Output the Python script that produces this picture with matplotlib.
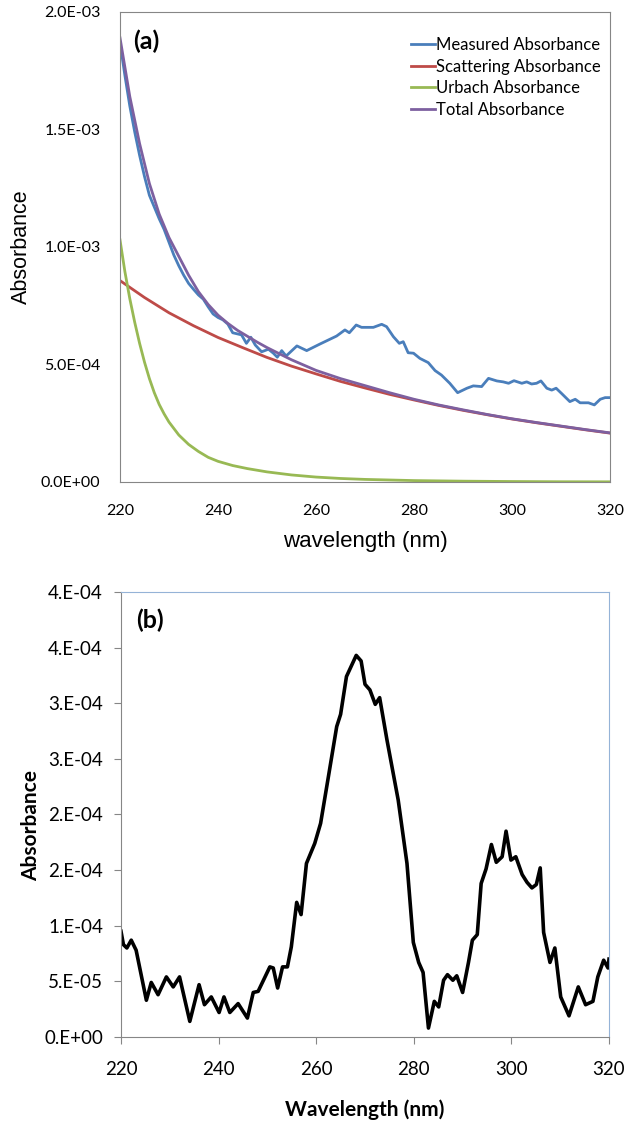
import numpy as np
import matplotlib.pyplot as plt
from matplotlib.ticker import FixedLocator, FixedFormatter

# ---- panel (a) data (absorbance x 1e-3) ----
wl_meas = [220, 221, 222, 223, 224, 225, 226, 227, 228, 229, 230, 231, 232, 233, 234, 235,
           236, 237, 238, 239, 240, 241, 242, 243, 244, 244.8, 245.8, 246.7, 247.6, 248.9,
           250.3, 251.3, 252.1, 253.0, 253.9, 256.1, 258.1, 260.8, 264.2, 265.9, 266.8,
           268.2, 269.3, 271.7, 273.4, 274.4, 275.8, 277.0, 277.8, 278.8, 279.9, 281.2,
           282.9, 284.3, 285.6, 287.3, 288.9, 290.8, 292.1, 293.8, 295.2, 296.9, 298.2,
           299.3, 300.4, 302.0, 303.0, 304.0, 305.0, 305.9, 307.1, 308.1, 309.0, 310.1,
           311.8, 312.9, 313.9, 315.6, 316.8, 318.0, 319.0, 320]
measured = [1.87, 1.73, 1.60, 1.49, 1.39, 1.30, 1.22, 1.17, 1.12, 1.075, 1.02, 0.965, 0.92,
            0.88, 0.845, 0.82, 0.796, 0.778, 0.745, 0.715, 0.70, 0.69, 0.672, 0.635, 0.63,
            0.626, 0.590, 0.616, 0.583, 0.554, 0.565, 0.548, 0.531, 0.559, 0.536, 0.579,
            0.559, 0.587, 0.621, 0.647, 0.635, 0.668, 0.658, 0.658, 0.671, 0.661, 0.618,
            0.590, 0.597, 0.550, 0.548, 0.526, 0.508, 0.474, 0.455, 0.420, 0.380, 0.399,
            0.409, 0.406, 0.441, 0.430, 0.426, 0.420, 0.431, 0.420, 0.426, 0.417, 0.420,
            0.430, 0.399, 0.391, 0.399, 0.377, 0.342, 0.352, 0.337, 0.337, 0.328, 0.352,
            0.359, 0.359]

wl_scat = [220, 225, 230, 235, 240, 245, 250, 255, 260, 265, 270, 275, 280, 285, 290, 295,
           300, 305, 310, 315, 320]
scattering = [0.857, 0.785, 0.72, 0.665, 0.615, 0.572, 0.53, 0.493, 0.46, 0.428, 0.40,
              0.373, 0.349, 0.326, 0.305, 0.286, 0.268, 0.252, 0.237, 0.222, 0.208]

wl_urb = [220, 221, 222, 223, 224, 225, 226, 227, 228, 229, 230, 232, 234, 236, 238, 240,
          243, 246, 250, 255, 260, 265, 270, 280, 290, 300, 310, 320]
urbach = [1.03, 0.895, 0.78, 0.68, 0.59, 0.51, 0.44, 0.38, 0.33, 0.29, 0.255, 0.20, 0.16,
          0.13, 0.105, 0.088, 0.07, 0.057, 0.043, 0.030, 0.021, 0.015, 0.011, 0.006,
          0.0035, 0.002, 0.001, 0.0007]

wl_tot = [220, 222, 224, 226, 228, 230, 232, 234, 236, 238, 240, 242, 244, 246, 248, 250,
          255, 260, 265, 270, 275, 280, 285, 290, 295, 300, 305, 310, 315, 320]
total = [1.89, 1.64, 1.44, 1.27, 1.14, 1.04, 0.96, 0.88, 0.81, 0.755, 0.71, 0.675, 0.645,
         0.62, 0.595, 0.572, 0.52, 0.475, 0.44, 0.41, 0.38, 0.352, 0.328, 0.307, 0.287,
         0.269, 0.253, 0.238, 0.223, 0.209]

# ---- panel (b) data (absorbance x 1e-5) ----
wl_b = [220, 220.5, 221.2, 222.1, 223.1, 225.2, 226.2, 227.6, 229.3, 230.7, 232.0, 234.1,
        236.0, 237.1, 238.5, 240.1, 241.1, 242.3, 244.0, 245.9, 247.1, 248.1, 250.5, 251.2,
        252.1, 253.1, 254.1, 254.9, 256.0, 256.9, 258.0, 259.7, 260.9, 262.5, 264.2, 265.0,
        266.2, 268.2, 269.2, 270.0, 271.0, 272.1, 273.0, 274.5, 276.8, 278.6, 279.9, 281.0,
        281.9, 283.0, 284.2, 285.1, 286.1, 286.9, 288.0, 288.8, 290.0, 291.2, 292.0, 293.0,
        293.8, 294.8, 295.9, 296.9, 298.1, 298.9, 299.9, 300.9, 302.2, 303.2, 304.2, 305.1,
        305.9, 306.6, 307.9, 308.9, 310.1, 311.8, 313.7, 315.2, 316.7, 317.7, 318.9, 319.8,
        320]
diff_b = [9.5, 8.3, 8.0, 8.7, 7.8, 3.3, 4.9, 3.8, 5.4, 4.5, 5.4, 1.4, 4.7, 2.9, 3.6, 2.2,
          3.6, 2.2, 3.0, 1.7, 4.0, 4.1, 6.3, 6.2, 4.4, 6.3, 6.3, 8.1, 12.1, 11.0, 15.6, 17.4,
          19.2, 23.4, 27.9, 29.0, 32.4, 34.3, 33.8, 31.7, 31.2, 29.9, 30.5, 26.7, 21.3, 15.6,
          8.5, 6.7, 5.8, 0.8, 3.2, 2.7, 5.1, 5.6, 5.1, 5.5, 4.0, 6.7, 8.7, 9.2, 13.8, 15.1,
          17.3, 15.7, 16.2, 18.5, 15.9, 16.2, 14.6, 13.9, 13.4, 13.7, 15.2, 9.4, 6.7, 8.0,
          3.6, 1.9, 4.5, 2.9, 3.2, 5.4, 6.9, 6.2, 7.0]

yticks_a = [0, 5e-4, 1e-3, 1.5e-3, 2e-3]
ylabels_a = ['0.0E+00', '5.0E-04', '1.0E-03', '1.5E-03', '2.0E-03']
yticks_b = [0, 5e-5, 1e-4, 1.5e-4, 2e-4, 2.5e-4, 3e-4, 3.5e-4, 4e-4]
ylabels_b = ['0.E+00', '5.E-05', '1.E-04', '2.E-04', '2.E-04', '3.E-04', '3.E-04', '4.E-04', '4.E-04']
xticks = [220, 240, 260, 280, 300, 320]

plt.rcParams['font.family'] = ['Lato', 'DejaVu Sans']

fig = plt.figure(figsize=(6.24, 11.28), dpi=100)

# ---------------- (a) ----------------
ax1 = fig.add_axes([0.1923, 0.5727, 0.7853, 0.4167])
ax1.plot(wl_meas, np.array(measured) * 1e-3, color='#4A7EBB', lw=2, label='Measured Absorbance')
ax1.plot(wl_scat, np.array(scattering) * 1e-3, color='#BE4B48', lw=2, label='Scattering Absorbance')
ax1.plot(wl_urb, np.array(urbach) * 1e-3, color='#98B954', lw=2, label='Urbach Absorbance')
ax1.plot(wl_tot, np.array(total) * 1e-3, color='#7D60A0', lw=2, label='Total Absorbance')
ax1.set_xlim(220, 320)
ax1.set_ylim(0, 2e-3)
ax1.xaxis.set_major_locator(FixedLocator(xticks))
ax1.yaxis.set_major_locator(FixedLocator(yticks_a))
ax1.yaxis.set_major_formatter(FixedFormatter(ylabels_a))
ax1.tick_params(length=0, labelsize=11.5)
ax1.tick_params(axis='y', pad=14)
ax1.tick_params(axis='x', pad=16)
for s in ax1.spines.values():
    s.set_color('#868686')
ax1.set_xlabel('wavelength (nm)', fontsize=16, family='Liberation Sans', labelpad=9)
ax1.set_ylabel('Absorbance', fontsize=15.5, family='Liberation Sans')
ax1.yaxis.set_label_coords(-0.18, 0.5)
ax1.text(0.027, 0.962, '(a)', transform=ax1.transAxes, fontsize=18, fontweight='bold',
         va='top', ha='left')
ax1.legend(loc='upper right', frameon=False, fontsize=12, handlelength=1.45,
           handletextpad=0.1, labelspacing=0.33, borderaxespad=0.13,
           bbox_to_anchor=(1.0, 0.965))

# ---------------- (b) ----------------
ax2 = fig.add_axes([0.1939, 0.0807, 0.7821, 0.3945])
ax2.plot(wl_b, np.array(diff_b) * 1e-5, color='black', lw=2.6, solid_joinstyle='round')
ax2.set_xlim(220, 320)
ax2.set_ylim(0, 4e-4)
ax2.xaxis.set_major_locator(FixedLocator(xticks))
ax2.yaxis.set_major_locator(FixedLocator(yticks_b))
ax2.yaxis.set_major_formatter(FixedFormatter(ylabels_b))
ax2.tick_params(direction='out', length=5, color='#868686', labelsize=13.5)
ax2.tick_params(axis='y', pad=8)
ax2.tick_params(axis='x', pad=12)
ax2.spines['left'].set_color('#868686')
ax2.spines['bottom'].set_color('#868686')
ax2.spines['top'].set_color('#95B3D7')
ax2.spines['right'].set_color('#95B3D7')
ax2.set_xlabel('Wavelength (nm)', fontsize=15, fontweight='bold', labelpad=16)
ax2.set_ylabel('Absorbance', fontsize=15, fontweight='bold')
ax2.yaxis.set_label_coords(-0.163, 0.476)
ax2.text(0.032, 0.962, '(b)', transform=ax2.transAxes, fontsize=18, fontweight='bold',
         va='top', ha='left')

fig.savefig('out.png', dpi=100)
